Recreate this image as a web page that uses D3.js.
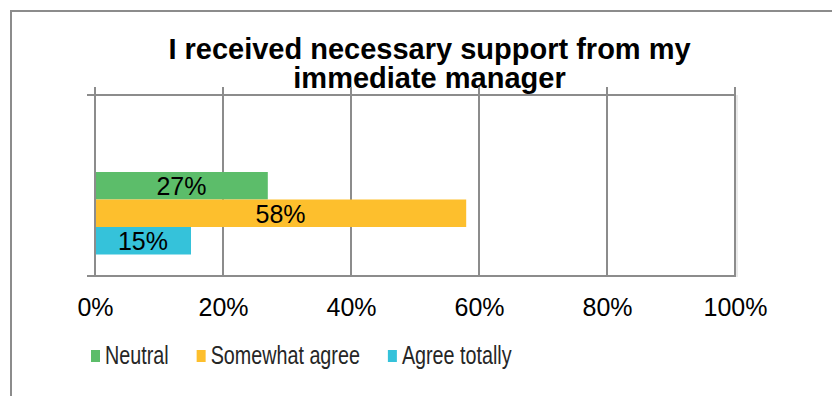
<!DOCTYPE html>
<html>
<head>
<meta charset="utf-8">
<script src="https://cdn.jsdelivr.net/npm/d3@7"></script>
<style>
  html, body { margin: 0; padding: 0; background: #fff; }
  svg { display: block; }
</style>
</head>
<body>
<svg id="chart" width="832" height="396"></svg>
<script>
// Survey answer shares for a single question
const titleLines = ["I received necessary support from my", "immediate manager"];
const seriesNames = ["Neutral", "Somewhat agree", "Agree totally"];
const seriesValues = [27, 58, 15];
const seriesColors = ["#5cbd6a", "#fdbf2d", "#35c2da"];
const tickValues = [0, 20, 40, 60, 80, 100];
const tickLabels = ["0%", "20%", "40%", "60%", "80%", "100%"];

const svg = d3.select("#chart");
const gridColor = "#8c8c8c";

// outer chart frame (continues past the right and bottom edges)
svg.append("rect")
  .attr("x", 11).attr("y", 11)
  .attr("width", 840).attr("height", 400)
  .attr("fill", "none")
  .attr("stroke", gridColor)
  .attr("stroke-width", 2);

// title
const title = svg.append("text")
  .attr("text-anchor", "middle")
  .attr("font-family", "Liberation Sans, Arial, sans-serif")
  .attr("font-weight", "bold")
  .attr("font-size", 29)
  .attr("fill", "#000");
title.selectAll("tspan").data(titleLines).join("tspan")
  .attr("x", 429.5)
  .attr("y", (d, i) => 59 + i * 29)
  .text(d => d);

// plot area
const plot = { left: 95, right: 735, top: 95, bottom: 276 };
const x = d3.scaleLinear().domain([0, 100]).range([plot.left, plot.right]);
const y = d3.scaleBand().domain(seriesNames).range([172, 254.5]).padding(0);

// vertical gridlines with small tick stubs above the plot
svg.append("g").selectAll("line").data(tickValues).join("line")
  .attr("x1", d => x(d)).attr("x2", d => x(d))
  .attr("y1", plot.top - 8).attr("y2", plot.bottom)
  .attr("stroke", gridColor).attr("stroke-width", 2);

// faint shade along the right edge
svg.append("line")
  .attr("x1", x(100) + 2).attr("x2", x(100) + 2)
  .attr("y1", plot.top).attr("y2", plot.bottom + 1)
  .attr("stroke", "#d6d6d6").attr("stroke-width", 1);

// horizontal frame lines of the category axis, with tick stubs at the left
svg.append("g").selectAll("line").data([plot.top, plot.bottom]).join("line")
  .attr("x1", plot.left - 8).attr("x2", plot.right + 1)
  .attr("y1", d => d).attr("y2", d => d)
  .attr("stroke", gridColor).attr("stroke-width", 2);

// bars
svg.append("g").selectAll("rect").data(seriesValues).join("rect")
  .attr("x", x(0) + 1)
  .attr("y", (d, i) => y(seriesNames[i]))
  .attr("width", d => x(d) - x(0) - 1)
  .attr("height", y.bandwidth())
  .attr("fill", (d, i) => seriesColors[i]);

// data labels
svg.append("g").selectAll("text").data(seriesValues).join("text")
  .attr("x", d => (x(0) + x(d)) / 2)
  .attr("y", (d, i) => y(seriesNames[i]) + y.bandwidth() / 2)
  .attr("dy", "0.37em")
  .attr("text-anchor", "middle")
  .attr("font-family", "Liberation Sans, Arial, sans-serif")
  .attr("font-size", 25)
  .attr("fill", "#000")
  .text(d => d + "%");

// value axis labels below the plot
const axis = d3.axisBottom(x)
  .tickValues(tickValues)
  .tickFormat((d, i) => tickLabels[i])
  .tickSize(0)
  .tickPadding(0);
const axisG = svg.append("g")
  .attr("transform", `translate(0,${plot.bottom})`)
  .call(axis);
axisG.select(".domain").remove();
axisG.selectAll("text")
  .attr("font-family", "Liberation Sans, Arial, sans-serif")
  .attr("font-size", 25)
  .attr("fill", "#000")
  .attr("dy", null)
  .attr("y", 40);

// legend (narrow lettering)
const legend = svg.append("g").attr("transform", "translate(91,350)");
let cursor = 0;
seriesNames.forEach((name, i) => {
  const item = legend.append("g").attr("transform", `translate(${cursor},0)`);
  item.append("rect")
    .attr("x", 0).attr("y", 0)
    .attr("width", 9).attr("height", 12)
    .attr("fill", seriesColors[i]);
  const t = item.append("text")
    .attr("transform", "translate(14,14) scale(0.79,1)")
    .attr("font-family", "Liberation Sans, Arial, sans-serif")
    .attr("font-size", 25)
    .attr("fill", "#262626")
    .text(name);
  const w = t.node().getComputedTextLength() * 0.79;
  cursor += 14 + w + 28;
});
</script>
</body>
</html>
